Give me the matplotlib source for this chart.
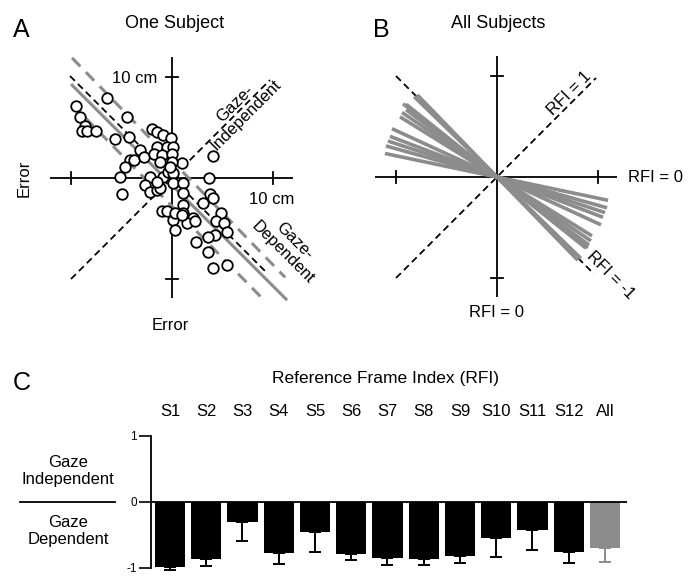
import numpy as np
import matplotlib.pyplot as plt
from matplotlib.lines import Line2D

plt.rcParams['font.family'] = ['Liberation Sans', 'DejaVu Sans']

W, H = 695, 576
GRAY = '#8c8c8c'

# panel A: one subject, horizontal/vertical error (cm)
err_x = [-9.5, -9.1, -8.6, -8.9, -8.4, -7.5, -6.4, -4.5, -5.6, -4.3,
         -3.2, -4.2, -3.8, -2.8, -4.7, -5.1, -5.0,
         -2.0, -1.5, -0.9, -0.1, -1.5, -0.5, 0.1, -1.8, -1.0, 0.0, 1.0, -1.2, 0.0,
         -2.2, -2.7, -2.2, -1.5, -1.2, -0.9, -0.4, 0.1, 0.1, 1.1, 1.1, -0.2, -1.5,
         3.7, 4.1,
         3.8, 4.1, 3.1, 1.1, 1.1, 2.1, 0.1, 0.3, 1.5, 2.3, 4.9, 4.4, 5.1, 5.4,
         4.3, 3.6, 2.4, 3.6, 4.1, 5.4, -1.0, -0.5, 0.3, 1.0]
err_y = [7.1, 6.0, 5.1, 4.7, 4.7, 4.7, 7.9, 6.0, 3.9, 4.1,
         2.8, 1.8, 1.8, 2.1, 1.1, 0.1, -1.6,
         4.9, 4.6, 4.3, 4.0, 3.1, 3.1, 3.1, 2.4, 2.3, 2.4, 1.5, 1.6, 1.6,
         0.1, -0.7, -1.4, -1.2, -1.0, 0.1, 0.6, 0.5, -0.5, -0.5, -1.5, 1.1, -0.4,
         0.0, 2.2,
         -1.6, -2.0, -2.5, -2.7, -3.5, -4.0, -4.2, -5.1, -4.5, -4.3, -3.5, -4.3, -4.5, -5.3,
         -5.6, -5.8, -6.3, -7.3, -8.9, -8.6, -3.3, -3.3, -3.5, -3.7]

# fit line and bounds: slope, intercept, x range
fit_lines = {
    'upper': (-1.03, 1.7, -9.9, 11.2),
    'fit': (-1.0, -0.7, -10.0, 11.4),
    'lower': (-1.02, -2.8, -8.6, 8.9),
}

# panel B: per-subject regression slopes and their x extents
subj_slope = [-1.03, -0.97, -0.80, -0.78, -0.74, -0.68, -0.62, -0.46, -0.38, -0.33, -0.28, -0.21]
subj_xmin = [-7.9, -8.2, -9.0, -9.3, -9.0, -9.4, -9.6, -10.4, -10.6, -10.8, -11.0, -11.1]
subj_xmax = [8.0, 8.3, 8.8, 9.0, 9.1, 9.3, 9.4, 10.3, 10.5, 10.7, 10.9, 11.0]

# panel C: reference frame index per subject
subjects = ['S1', 'S2', 'S3', 'S4', 'S5', 'S6', 'S7', 'S8', 'S9', 'S10', 'S11', 'S12', 'All']
rfi = [-0.98, -0.87, -0.31, -0.77, -0.45, -0.79, -0.85, -0.86, -0.82, -0.54, -0.43, -0.76, -0.70]
rfi_err = [0.05, 0.10, 0.28, 0.17, 0.31, 0.09, 0.11, 0.10, 0.11, 0.29, 0.30, 0.17, 0.21]


def fx(px):
    return px / W


def fy(py):
    return 1 - py / H


def cross_axes(ax, xr, yr):
    ax.plot(xr, [0, 0], color='k', lw=1.3, solid_capstyle='butt')
    ax.plot([0, 0], yr, color='k', lw=1.3, solid_capstyle='butt')
    for t in (-10, 10):
        ax.plot([t, t], [-0.55, 0.55], color='k', lw=1.3)
        ax.plot([-0.55, 0.55], [t, t], color='k', lw=1.3)


fig = plt.figure(figsize=(W / 100, H / 100), dpi=100)

lim = 13.07
dash_k = dict(color='k', lw=1.3, dashes=(3.8, 2.4))

# ---- panel A
axA = fig.add_axes([fx(40), fy(310), 264 / W, 264 / H])
axA.set_xlim(-lim, lim)
axA.set_ylim(-lim, lim)
axA.axis('off')
cross_axes(axA, [-12.1, 12.0], [-11.9, 12.0])
xs = np.array([-10.0, 9.7])
axA.plot(xs, xs, **dash_k)
xs = np.array([-10.1, 9.5])
axA.plot(xs, -xs, **dash_k)
for key, (m, b, x0, x1) in fit_lines.items():
    xs = np.array([x0, x1])
    if key == 'fit':
        axA.plot(xs, m * xs + b, color=GRAY, lw=2.2, solid_capstyle='butt')
    else:
        axA.plot(xs, m * xs + b, color=GRAY, lw=2.2, dashes=(3.9, 2.6))
axA.plot(err_x, err_y, 'o', ms=7.6, mfc='white', mec='k', mew=1.3, zorder=5)
axA.text(-1.4, 9.9, '10 cm', ha='right', va='center', fontsize=12)
axA.text(9.9, -2.1, '10 cm', ha='center', va='center', fontsize=12)
axA.text(-14.65, 0, 'Error', ha='center', va='center', rotation=90, fontsize=12)
axA.text(-0.2, -14.65, 'Error', ha='center', va='center', fontsize=12)
axA.text(6.8, 6.8, 'Gaze-\nIndependent', ha='center', va='center', rotation=45,
         rotation_mode='anchor', multialignment='center', fontsize=12, linespacing=1.1)
axA.text(11.5, -6.8, 'Gaze-\nDependent', ha='center', va='center', rotation=-45,
         rotation_mode='anchor', multialignment='center', fontsize=12, linespacing=1.1)

# ---- panel B
axB = fig.add_axes([fx(365), fy(309), 264 / W, 264 / H])
axB.set_xlim(-lim, lim)
axB.set_ylim(-lim, lim)
axB.axis('off')
cross_axes(axB, [-12.1, 11.9], [-11.9, 12.0])
xs = np.array([-10.0, 9.8])
axB.plot(xs, xs, **dash_k)
xs = np.array([-10.0, 9.6])
axB.plot(xs, -xs, **dash_k)
for m, x0, x1 in zip(subj_slope, subj_xmin, subj_xmax):
    xs = np.array([x0, x1])
    axB.plot(xs, m * xs, color=GRAY, lw=2.6, solid_capstyle='butt', zorder=4)
axB.text(7.2, 8.3, 'RFI = 1', ha='center', va='center', rotation=45,
         rotation_mode='anchor', fontsize=12)
axB.text(11.2, -9.7, 'RFI = -1', ha='center', va='center', rotation=-45,
         rotation_mode='anchor', fontsize=12)
axB.text(12.95, 0, 'RFI = 0', ha='left', va='center', fontsize=12)
axB.text(0, -13.4, 'RFI = 0', ha='center', va='center', fontsize=12)

# ---- titles
fig.text(fx(13), fy(37), 'A', fontsize=18, va='baseline')
fig.text(fx(175), fy(24), 'One Subject', fontsize=13, ha='center', va='center')
fig.text(fx(373), fy(37), 'B', fontsize=18, va='baseline')
fig.text(fx(498), fy(24), 'All Subjects', fontsize=13, ha='center', va='center')
fig.text(fx(13), fy(390), 'C', fontsize=18, va='baseline')
fig.text(fx(386), fy(378), 'Reference Frame Index (RFI)', fontsize=12.5,
         ha='center', va='center')

# ---- panel C
axC = fig.add_axes([fx(151), fy(568), 476 / W, 132 / H])
x = np.arange(len(subjects))
colors = ['k'] * (len(subjects) - 1) + [GRAY]
axC.bar(x, rfi, width=0.84, color=colors, zorder=2)
for xi, v, e, c in zip(x, rfi, rfi_err, colors):
    eb = axC.errorbar(xi, v, yerr=[[e], [0]], fmt='none', ecolor=c, elinewidth=1.4,
                      capsize=4.3, capthick=1.4, zorder=3)
    for art in eb.lines[1] + eb.lines[2]:
        art.set_clip_on(False)
axC.axhline(0, color='k', lw=1.3, zorder=4)
axC.set_xlim(-0.524, 12.607)
axC.set_ylim(-1, 1)
for s in ('top', 'right', 'bottom'):
    axC.spines[s].set_visible(False)
axC.spines['left'].set_linewidth(1.3)
axC.set_xticks([])
axC.set_yticks([-1, 0, 1])
axC.set_yticklabels(['-1', '0', '1'])
axC.tick_params(axis='y', length=9, width=1.2, labelsize=8.5, pad=1)
for xi, lab in zip(x, subjects):
    axC.text(xi, 1.37, lab, ha='center', va='center', fontsize=12)

fig.text(fx(68), fy(471), 'Gaze\nIndependent', ha='center', va='center',
         fontsize=12, linespacing=1.1)
fig.text(fx(68), fy(531), 'Gaze\nDependent', ha='center', va='center',
         fontsize=12, linespacing=1.1)
fig.add_artist(Line2D([fx(20), fx(115)], [fy(502), fy(502)], color='k', lw=1.3,
                      transform=fig.transFigure))

fig.savefig('out.png', dpi=100)
